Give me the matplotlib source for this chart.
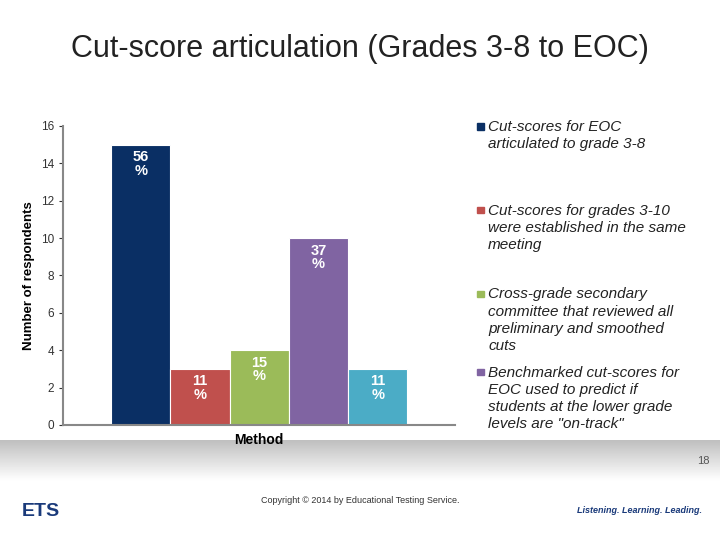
import matplotlib
matplotlib.use("Agg")
import matplotlib.pyplot as plt
import numpy as np

plt.rcParams["font.family"] = ["Liberation Sans", "DejaVu Sans"]

counts = [15, 3, 4, 10, 3]
pct_labels = ["56\n%", "11\n%", "15\n%", "37\n%", "11\n%"]
colors = ["#0a2f64", "#c0504d", "#9bbb59", "#8064a2", "#4bacc6"]
legend_labels = [
    "Cut-scores for EOC\narticulated to grade 3-8",
    "Cut-scores for grades 3-10\nwere established in the same\nmeeting",
    "Cross-grade secondary\ncommittee that reviewed all\npreliminary and smoothed\ncuts",
    "Benchmarked cut-scores for\nEOC used to predict if\nstudents at the lower grade\nlevels are \"on-track\"",
]
legend_y = [0.772, 0.617, 0.462, 0.317]
y_ticks = [0, 2, 4, 6, 8, 10, 12, 14, 16]

fig = plt.figure(figsize=(7.2, 5.4), dpi=100)
fig.text(0.5, 0.895, "Cut-score articulation (Grades 3-8 to EOC)", ha="center",
         fontsize=22, color="#222222")

ax = fig.add_axes([0.0875, 0.213, 0.545, 0.554])
x = np.arange(len(counts))
ax.bar(x, counts, width=1.0, color=colors, edgecolor="white", linewidth=0.8)
for xi, c, lab in zip(x, counts, pct_labels):
    ax.text(xi, c - 0.3, lab, ha="center", va="top", color="white",
            fontsize=10.5, fontweight="bold", linespacing=0.95)
ax.set_xlim(-1.31, 5.31)
ax.set_ylim(0, 16)
ax.set_yticks(y_ticks)
ax.set_xticks([])
ax.tick_params(axis="y", labelsize=8.5, colors="#333333", length=3)
ax.set_ylabel("Number of respondents", fontsize=9.5, fontweight="bold")
ax.set_xlabel("Method", fontsize=10, fontweight="bold", labelpad=6)
for s in ["top", "right"]:
    ax.spines[s].set_visible(False)
for s in ["left", "bottom"]:
    ax.spines[s].set_color("#888888")
    ax.spines[s].set_linewidth(1.5)

for lab, col, yy in zip(legend_labels, colors, legend_y):
    fig.patches.append(plt.Rectangle((0.663, yy - 0.012), 0.009, 0.012,
                                     transform=fig.transFigure, color=col))
    fig.text(0.678, yy + 0.006, lab, ha="left", va="top", fontsize=11,
             style="italic", color="#222222", linespacing=1.3)

# footer band
band = np.linspace(0.75, 1.0, 50).reshape(-1, 1)
fax = fig.add_axes([0, 0.11, 1, 0.075], zorder=-1)
fax.imshow(band, cmap="gray", vmin=0, vmax=1, aspect="auto")
fax.axis("off")
fig.text(0.985, 0.14, "18", ha="right", fontsize=8, color="#555555")
fig.text(0.5, 0.068, "Copyright © 2014 by Educational Testing Service.", ha="center",
         fontsize=6.5, color="#333333")
fig.text(0.03, 0.045, "ETS", fontsize=14, fontweight="bold", color="#1a3a7a")
fig.text(0.975, 0.05, "Listening. Learning. Leading.", ha="right", fontsize=6.5,
         style="italic", fontweight="bold", color="#1a3a7a")

fig.savefig("out.png", dpi=100)
